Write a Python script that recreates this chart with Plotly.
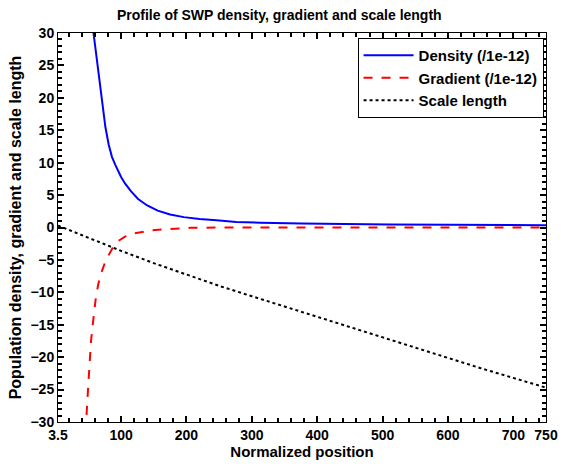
import plotly.graph_objects as go

dens_x = [45, 50, 54, 57.8, 61, 65, 68, 71, 76, 81, 86, 91, 94, 100, 106, 115, 126, 140, 156, 175, 196, 220, 246, 276, 313, 376, 510, 750]
dens_y = [48, 40, 34, 30, 27.3, 24.5, 21.8, 19.3, 15.5, 12.8, 10.9, 9.7, 9.0, 7.8, 6.8, 5.6, 4.4, 3.4, 2.6, 2.0, 1.6, 1.3, 1.1, 0.85, 0.75, 0.6, 0.45, 0.35]

grad_x = [44, 46.5, 49.4, 51.4, 54, 56.4, 61.4, 65, 69, 76.4, 81, 89, 94, 106, 118, 131, 148, 166, 186, 206, 250, 400, 750]
grad_y = [-40, -30, -25, -21, -17.5, -15.2, -10.8, -8.8, -7.2, -5.1, -4.2, -2.8, -2.2, -1.4, -0.95, -0.67, -0.42, -0.27, -0.12, -0.05, 0.0, 0.0, 0.0]

scale_x = [3.5, 50, 100, 150, 200, 250, 300, 350, 400, 450, 500, 550, 600, 650, 700, 750]
scale_y = [0.3, -1.6, -3.6, -5.5, -7.3, -9.0, -10.6, -12.2, -13.8, -15.4, -17.0, -18.6, -20.2, -21.7, -23.2, -24.7]

x_ticks = [3.5, 100, 200, 300, 400, 500, 600, 700, 750]
x_ticktext = ["3.5", "100", "200", "300", "400", "500", "600", "700", "750"]
y_ticks = [-30, -25, -20, -15, -10, -5, 0, 5, 10, 15, 20, 25, 30]
x_minor = list(range(20, 750, 20))
y_minor = list(range(-30, 31, 1))

FONT = "Liberation Sans, Arial, Helvetica, sans-serif"

fig = go.Figure()
fig.add_trace(go.Scatter(x=dens_x, y=dens_y, mode="lines", name="Density (/1e-12)",
                         line=dict(color="#0000ff", width=2)))
fig.add_trace(go.Scatter(x=grad_x, y=grad_y, mode="lines", name="Gradient (/1e-12)",
                         line=dict(color="#ff0000", width=2, dash="dash")))
fig.add_trace(go.Scatter(x=scale_x, y=scale_y, mode="lines", name="Scale length",
                         line=dict(color="#000000", width=2, dash="dot")))

fig.update_xaxes(
    range=[3.5, 750], tickmode="array", tickvals=x_ticks, ticktext=x_ticktext,
    showgrid=False, zeroline=False, showline=True, linecolor="black", linewidth=1,
    mirror="allticks", ticks="inside", ticklen=6, tickwidth=2, tickcolor="black",
    minor=dict(tickmode="array", tickvals=x_minor, ticks="inside", ticklen=4, tickwidth=2, tickcolor="black", showgrid=False),
    tickfont=dict(family=FONT, size=14, color="black", weight="bold"),
    title=dict(text="Normalized position", font=dict(family=FONT, size=15, color="black", weight="bold"), standoff=2),
)
fig.update_yaxes(
    range=[-30, 30], tickmode="array", tickvals=y_ticks,
    showgrid=False, zeroline=False, showline=True, linecolor="black", linewidth=1,
    mirror="allticks", ticks="inside", ticklen=6, tickwidth=2, tickcolor="black",
    minor=dict(tickmode="array", tickvals=y_minor, ticks="inside", ticklen=4, tickwidth=2, tickcolor="black", showgrid=False),
    tickfont=dict(family=FONT, size=14, color="black", weight="bold"),
    title=dict(text="Population density, gradient and scale length", font=dict(family=FONT, size=16, color="black", weight="bold"), standoff=4),
)

fig.update_layout(
    width=570, height=467,
    margin=dict(l=58, r=13, t=33, b=42),
    paper_bgcolor="white", plot_bgcolor="white",
    title=dict(text="Profile of SWP density, gradient and scale length", x=0.49, xanchor="center",
               y=0.968, yanchor="middle",
               font=dict(family=FONT, size=14, color="black", weight="bold")),
    legend=dict(x=0.995, xanchor="right", y=0.987, yanchor="top",
                bordercolor="black", borderwidth=1, bgcolor="white",
                font=dict(family=FONT, size=15, color="black", weight="bold"),
                itemwidth=50, tracegroupgap=0),
    showlegend=True,
)

fig.write_html("out.html")
